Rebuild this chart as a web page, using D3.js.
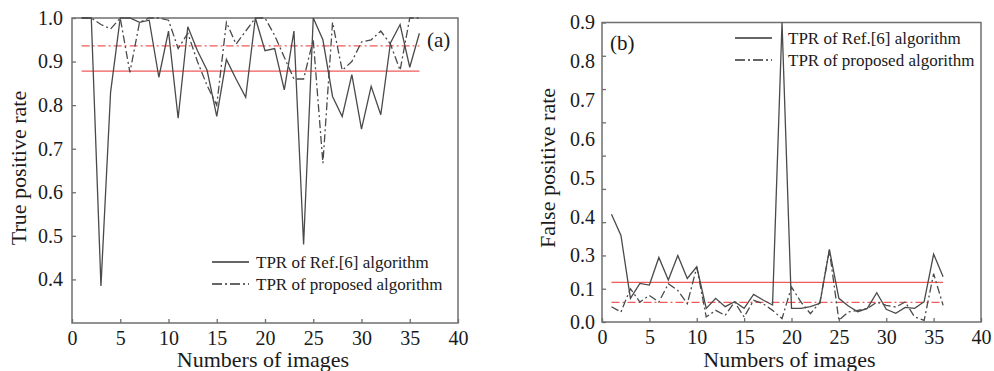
<!DOCTYPE html>
<html>
<head>
<meta charset="utf-8">
<script src="https://cdn.jsdelivr.net/npm/d3@7"></script>
<style>
  body { margin: 0; background: #fff; }
  svg text { font-family: "Liberation Serif", "DejaVu Serif", serif !important; fill: #1a1a1a; }
</style>
</head>
<body>
<div id="chart"></div>
<script>
// image index 1..36
var images = [1,2,3,4,5,6,7,8,9,10,11,12,13,14,15,16,17,18,19,20,21,22,23,24,25,26,27,28,29,30,31,32,33,34,35,36]

// (a) true positive rate
var tprRef6 = [1.0,1.0,0.385,0.83,1.0,1.0,0.99,0.995,0.864,0.97,0.77,0.98,0.925,0.88,0.774,0.905,0.86,0.818,1.0,0.925,
               0.93,0.835,0.97,0.48,1.0,0.95,0.82,0.774,0.87,0.745,0.843,0.778,0.943,0.985,0.887,0.965]
var tprProposed = [1.0,1.0,0.985,0.975,1.0,0.875,0.99,1.0,1.0,0.995,0.93,0.965,0.9,0.845,0.8,0.99,0.94,0.97,1.0,1.0,
                   0.96,0.91,0.86,0.86,0.95,0.667,0.99,0.88,0.9,0.945,0.95,0.97,0.94,0.88,1.0,1.0]
var tprMeans = [0.878, 0.936]

// (b) false positive rate
var fprRef6 = [0.324,0.26,0.071,0.116,0.111,0.194,0.126,0.2,0.131,0.166,0.041,0.071,0.046,0.061,0.041,0.083,0.066,0.051,0.9,0.041,
               0.041,0.046,0.056,0.218,0.071,0.048,0.031,0.041,0.088,0.038,0.026,0.044,0.041,0.061,0.204,0.136]
var fprProposed = [0.046,0.03,0.10,0.06,0.08,0.06,0.115,0.095,0.055,0.165,0.015,0.035,0.02,0.06,0.015,0.065,0.055,0.035,0.01,0.105,
                   0.06,0.025,0.06,0.215,0.005,0.03,0.035,0.04,0.06,0.05,0.045,0.06,0.015,0.005,0.145,0.05]
var fprMeans = [0.119, 0.059]

var xTicks = [0,5,10,15,20,25,30,35,40]
var tprTicks = [0.4,0.5,0.6,0.7,0.8,0.9,1.0]
var fprTicks = [0,0.1,0.2,0.3,0.4,0.5,0.6,0.7,0.8,0.9]
// the printed labels of (b) do not sit on the ticks: 0.9..0.3 are spread over 0.9..0.2, then 0.1 and 0.0
var fprLabelsUpper = [0.3,0.4,0.5,0.6,0.7,0.8,0.9]
var fprLabelsLower = [0.0,0.1]
var legendNames = ["TPR of Ref.[6] algorithm", "TPR of proposed algorithm"]

var width = 994, height = 371
var axisColor = "#6f6f6f", lineColor = "#4a4a4a", red = "#f05a5a"
var dashDot = "8,3,2,3"
var serif = "'Liberation Serif', 'DejaVu Serif', serif"

var svg = d3.select("#chart").append("svg")
  .attr("width", width)
  .attr("height", height)
  .attr("font-family", serif)

function styleAxis(g) {
  g.attr("font-family", serif).attr("font-size", 20)
  g.selectAll("text").attr("fill", "#1a1a1a")
  g.selectAll("line").attr("stroke", axisColor).attr("stroke-width", 1.3)
  g.select(".domain").remove()
}

function drawPanel(p) {
  var x = d3.scaleLinear().domain([0, 40]).range([p.x0, p.x1])
  var y = d3.scaleLinear().domain(p.yDomain).range([p.y1, p.y0])
  var g = svg.append("g")

  // x axis, ticks pointing inward
  g.append("g")
    .attr("transform", "translate(0," + p.y1 + ")")
    .call(d3.axisBottom(x).tickValues(xTicks).tickSizeInner(-4).tickSizeOuter(0).tickPadding(8))
    .call(styleAxis)

  // y axis
  if (p.name == "a") {
    g.append("g")
      .attr("transform", "translate(" + p.x0 + ",0)")
      .call(d3.axisLeft(y).tickValues(tprTicks).tickFormat(d3.format(".1f")).tickSizeInner(-4).tickSizeOuter(0).tickPadding(9))
      .call(styleAxis)
  } else {
    g.append("g")
      .attr("transform", "translate(" + p.x0 + ",0)")
      .call(d3.axisLeft(y).tickValues(fprTicks).tickFormat("").tickSizeInner(-4).tickSizeOuter(0))
      .call(styleAxis)
    var yLab = d3.scaleLinear().domain([0.3, 0.9]).range([y(0.2), y(0.9)])
    g.append("g")
      .attr("transform", "translate(" + p.x0 + ",0)")
      .call(d3.axisLeft(yLab).tickValues(fprLabelsUpper).tickFormat(d3.format(".1f")).tickSize(0).tickPadding(7))
      .call(styleAxis)
    g.append("g")
      .attr("transform", "translate(" + p.x0 + ",0)")
      .call(d3.axisLeft(y).tickValues(fprLabelsLower).tickFormat(d3.format(".1f")).tickSize(0).tickPadding(7))
      .call(styleAxis)
  }

  // frame
  g.append("rect")
    .attr("x", p.x0).attr("y", p.y0)
    .attr("width", p.x1 - p.x0).attr("height", p.y1 - p.y0)
    .attr("fill", "none").attr("stroke", axisColor).attr("stroke-width", 1.5)

  // mean lines
  var first = images[0], last = images[images.length - 1]
  p.means.forEach(function(m, i) {
    g.append("line")
      .attr("x1", x(first)).attr("x2", x(last))
      .attr("y1", y(m)).attr("y2", y(m))
      .attr("stroke", red).attr("stroke-width", 1.4)
      .attr("stroke-dasharray", i == 1 ? dashDot : null)
  })

  var line = d3.line()
    .x(function(d, i) { return x(images[i]) })
    .y(function(d) { return y(d) })

  g.append("path").datum(p.proposed)
    .attr("d", line).attr("fill", "none")
    .attr("stroke", lineColor).attr("stroke-width", 1.3)
    .attr("stroke-dasharray", dashDot)
  g.append("path").datum(p.ref6)
    .attr("d", line).attr("fill", "none")
    .attr("stroke", lineColor).attr("stroke-width", 1.3)

  // legend
  legendNames.forEach(function(name, i) {
    var ly = p.legY + i * 22
    g.append("line")
      .attr("x1", p.legX).attr("x2", p.legX + 37)
      .attr("y1", ly).attr("y2", ly)
      .attr("stroke", "#333").attr("stroke-width", 1.6)
      .attr("stroke-dasharray", i == 1 ? "10,3,2,3" : null)
    g.append("text")
      .attr("x", p.legTextX).attr("y", ly).attr("dy", "0.35em")
      .attr("font-size", 17)
      .text(name)
  })

  // panel tag
  g.append("text")
    .attr("x", p.tagX).attr("y", p.tagY).attr("dy", "0.35em")
    .attr("font-size", 21)
    .text("(" + p.name + ")")

  // axis titles
  g.append("text")
    .attr("x", (p.x0 + p.x1) / 2 - 2).attr("y", 367)
    .attr("text-anchor", "middle")
    .attr("font-size", 22)
    .text("Numbers of images")
  g.append("text")
    .attr("transform", "translate(" + p.yTitleX + ",168) rotate(-90)")
    .attr("text-anchor", "middle").attr("dy", "0.35em")
    .attr("font-size", 22)
    .text(p.yTitle)
}

drawPanel({name: "a", x0: 72, x1: 458, y0: 18, y1: 323, yDomain: [0.3, 1.0],
  ref6: tprRef6, proposed: tprProposed, means: tprMeans,
  legX: 212, legTextX: 256, legY: 262, tagX: 427, tagY: 40,
  yTitle: "True positive rate", yTitleX: 18})

drawPanel({name: "b", x0: 602, x1: 981, y0: 22.5, y1: 322, yDomain: [0, 0.9],
  ref6: fprRef6, proposed: fprProposed, means: fprMeans,
  legX: 735, legTextX: 788, legY: 38, tagX: 610, tagY: 43,
  yTitle: "False positive rate", yTitleX: 547})
</script>
</body>
</html>
